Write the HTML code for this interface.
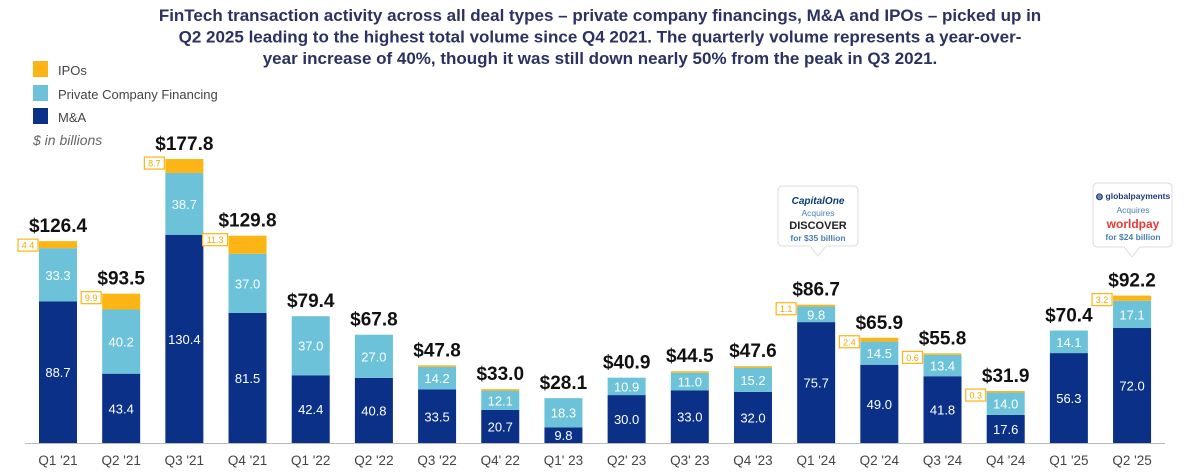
<!DOCTYPE html>
<html><head><meta charset="utf-8">
<style>
body{margin:0;background:#fff;width:1193px;height:473px;overflow:hidden;font-family:"Liberation Sans",sans-serif}
svg{display:block}
</style></head><body>
<svg id="chart" width="1193" height="473" viewBox="0 0 1193 473" xmlns="http://www.w3.org/2000/svg">
<g font-size="17" font-weight="bold" fill="#2b3160" text-anchor="middle">
<text x="600" y="21">FinTech transaction activity across all deal types – private company financings, M&amp;A and IPOs – picked up in</text>
<text x="600" y="42.5">Q2 2025 leading to the highest total volume since Q4 2021. The quarterly volume represents a year-over-</text>
<text x="600" y="64">year increase of 40%, though it was still down nearly 50% from the peak in Q3 2021.</text>
</g>
<g font-size="13" fill="#444">
<rect x="33" y="61" width="15" height="16" fill="#FDB515"/>
<text x="58" y="75">IPOs</text>
<rect x="33" y="85" width="15" height="16" fill="#6CC2D8"/>
<text x="58" y="99">Private Company Financing</text>
<rect x="33" y="108" width="15" height="16" fill="#0B3088"/>
<text x="58" y="122">M&amp;A</text>
<text x="33" y="145" font-style="italic" font-size="14" fill="#666">$ in billions</text>
</g>
<line x1="25" y1="443.5" x2="1165" y2="443.5" stroke="#bbb" stroke-width="1"/>
<g id="bars"></g>
<g>
<path d="M783 186 H853 Q858 186 858 191 V241 Q858 246 853 246 H826 L818 256 L810 246 H783 Q778 246 778 241 V191 Q778 186 783 186 Z" fill="#fff" stroke="#ddd" stroke-width="1"/>
<text x="818" y="204" text-anchor="middle" font-size="10" font-weight="bold" font-style="italic" fill="#0b3a78">CapitalOne</text>
<text x="818" y="216" text-anchor="middle" font-size="8.5" fill="#4a7fb5">Acquires</text>
<text x="818" y="229" text-anchor="middle" font-size="11" font-weight="bold" fill="#222">DISCOVER</text>
<text x="818" y="241" text-anchor="middle" font-size="8.5" font-weight="bold" fill="#4a7fb5">for $35 billion</text>
</g>
<g>
<path d="M1098 183 H1167 Q1172 183 1172 188 V242 Q1172 247 1167 247 H1140 L1132 257 L1124 247 H1098 Q1093 247 1093 242 V188 Q1093 183 1098 183 Z" fill="#fff" stroke="#ddd" stroke-width="1"/>
<text x="1133" y="199" text-anchor="middle" font-size="8.5" font-weight="bold" fill="#1f3b78">◍ globalpayments</text>
<text x="1133" y="213" text-anchor="middle" font-size="8.5" fill="#4a7fb5">Acquires</text>
<text x="1133" y="228" text-anchor="middle" font-size="12" font-weight="bold" fill="#e53935">worldpay</text>
<text x="1133" y="240" text-anchor="middle" font-size="8.5" font-weight="bold" fill="#4a7fb5">for $24 billion</text>
</g>
</svg>
<script>
const categories=["Q1 '21","Q2 '21","Q3 '21","Q4 '21","Q1 '22","Q2 '22","Q3 '22","Q4' 22","Q1' 23","Q2' 23","Q3' 23","Q4 '23","Q1 '24","Q2 '24","Q3 '24","Q4 '24","Q1 '25","Q2 '25"];
const maValues=[88.7,43.4,130.4,81.5,42.4,40.8,33.5,20.7,9.8,30.0,33.0,32.0,75.7,49.0,41.8,17.6,56.3,72.0];
const pcfValues=[33.3,40.2,38.7,37.0,37.0,27.0,14.2,12.1,18.3,10.9,11.0,15.2,9.8,14.5,13.4,14.0,14.1,17.1];
const ipoValues=[4.4,9.9,8.7,11.3,0,0,0.1,0.2,0,0,0.5,0.4,1.1,2.4,0.6,0.3,0,3.2];
const totalLabels=["$126.4","$93.5","$177.8","$129.8","$79.4","$67.8","$47.8","$33.0","$28.1","$40.9","$44.5","$47.6","$86.7","$65.9","$55.8","$31.9","$70.4","$92.2"];
const ipoBoxShown=[true,true,true,true,false,false,false,false,false,false,false,false,true,true,true,true,false,true];

const NS="http://www.w3.org/2000/svg";
const g=document.getElementById('bars');
const baseY=443, pxPerUnit=1.597, firstX=58, pitch=63.18, barW=38;
const xC=i=>firstX+i*pitch;
const y=v=>baseY-v*pxPerUnit;
function mk(tag,attrs){const e=document.createElementNS(NS,tag);for(const k in attrs)e.setAttribute(k,attrs[k]);return e;}
function txt(x,yy,s,size,fill,weight){const t=mk('text',{x:x,y:yy,'text-anchor':'middle','font-size':size,fill:fill,'font-weight':weight||'normal'});t.textContent=s;return t;}
categories.forEach((c,i)=>{
  const cx=xC(i), x0=cx-barW/2;
  const ma=maValues[i], pc=pcfValues[i], ip=ipoValues[i];
  const r1=mk('rect',{x:x0,y:y(ma),width:barW,height:ma*pxPerUnit,fill:'#0B3088'});
  
  
  g.appendChild(r1);
  const r2=mk('rect',{x:x0,y:y(ma+pc),width:barW,height:pc*pxPerUnit,fill:'#6CC2D8'});
  
  
  g.appendChild(r2);
  const ipH=Math.max(ip*pxPerUnit, ip>0?1.5:0);
  const r3=mk('rect',{x:x0,y:y(ma+pc)-ipH,width:barW,height:ipH,fill:'#FDB515'});
  
  
  g.appendChild(r3);
  const l1=txt(cx,y(ma/2)+5,ma.toFixed(1),13,'#fff');
  
  
  g.appendChild(l1);
  const l2=txt(cx,y(ma+pc/2)+5,pc.toFixed(1),13,'#fff');
  
  
  g.appendChild(l2);
  const top=y(ma+pc)-ipH;
  const tl=txt(cx,top-9,totalLabels[i],19,'#111','bold');
  
  
  g.appendChild(tl);
  if(ipoBoxShown[i]){
    const s=ip.toFixed(1), bw=s.length>3?25:20, by=top-2;
    const bx=mk('rect',{x:x0-bw-1,y:by,width:bw,height:12,fill:'#fff',stroke:'#FDB515','stroke-width':1.2});
    
    
    g.appendChild(bx);
    const bt=txt(x0-bw/2-1,by+9.5,s,9,'#F5A800');
    
    
    g.appendChild(bt);
  }
  const xl=txt(cx,465,c,13.5,'#444');
  
  
  g.appendChild(xl);
});
</script>
</body></html>
